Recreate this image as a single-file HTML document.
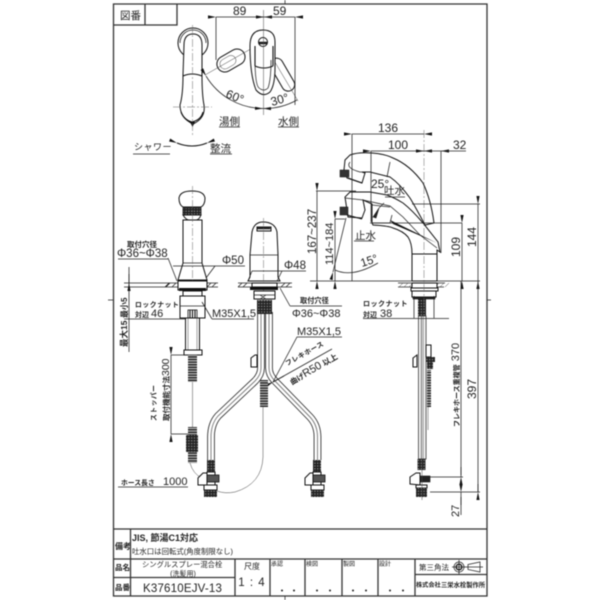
<!DOCTYPE html>
<html><head><meta charset="utf-8"><style>
html,body{margin:0;padding:0;background:#fff}
svg{display:block;filter:blur(.4px)}
text{font-family:"Liberation Sans","Noto Sans CJK JP",sans-serif;fill:#222}
.b{font-weight:700}
.l{fill:none;stroke:#222;stroke-width:.75}
.t{fill:none;stroke:#444;stroke-width:.5}
.h{fill:none;stroke:#111;stroke-width:1.1}
.w{fill:#fff;stroke:#111;stroke-width:1}
.d{fill:#222;stroke:#111;stroke-width:.6}
.c{fill:none;stroke:#666;stroke-width:.5;stroke-dasharray:8 2 2 2}
.f{fill:none;stroke:#333;stroke-width:1.3}
.ho{fill:none;stroke:#222;stroke-width:7.6}
.hw{fill:none;stroke:#fff;stroke-width:6}
.hc{fill:none;stroke:#777;stroke-width:.9}
</style></head><body>
<svg xmlns="http://www.w3.org/2000/svg" width="600" height="600" viewBox="0 0 600 600">
<defs>
<marker id="a" viewBox="0 0 8 4" refX="0" refY="2" markerWidth="8" markerHeight="4" markerUnits="userSpaceOnUse" orient="auto-start-reverse"><path d="M0 2L8 .4V3.6Z" fill="#111"/></marker>
<pattern id="dk" width="2.8" height="2.8" patternUnits="userSpaceOnUse"><rect width="2.8" height="2.8" fill="#222"/><rect x=".7" y=".7" width="1.2" height="1" fill="#aaa"/></pattern>
<pattern id="cl" width="4" height="2.6" patternUnits="userSpaceOnUse"><rect width="4" height="2.6" fill="#ccc"/><rect width="4" height="1.5" fill="#222"/></pattern>
</defs>

<!-- frame -->
<g class="f">
<path d="M113.5 4H487V596H113.5Z"/>
<path d="M113.5 25H177V4M145 4V25"/>
<path d="M113.5 529H487M113.5 559H487M113.5 577.5H235M130.5 529V596M235 559V596M270 559V596M305 559V596M342 559V596M378 559V596M415 559V596M415 574.5H487"/>
</g>
<path class="l" d="M285 0V4M285 596V600M108 300H113M487 300H491"/>

<!-- title texts -->
<text x="120" y="19" font-size="10.5">図番</text>
<text x="115" y="549" font-size="8" class="b">備考</text>
<text x="132" y="541" font-size="9" class="b">JIS,  節湯C1対応</text>
<text x="132" y="554" font-size="7.4">吐水口は回転式(角度制限なし)</text>
<text x="115" y="570" font-size="7.5" class="b">品名</text>
<text x="115" y="590" font-size="7.5" class="b">品番</text>
<text x="142" y="567" font-size="7.3">シングルスプレー混合栓</text>
<text x="183" y="576" font-size="7" text-anchor="middle">(洗髪用)</text>
<text x="143" y="592" font-size="11.5" letter-spacing=".2">K37610EJV-13</text>
<text x="252" y="569" font-size="8" text-anchor="middle">尺度</text>
<text x="252" y="586" font-size="11.5" text-anchor="middle" letter-spacing="1">1 : 4</text>
<text x="271" y="566" font-size="6">承認</text>
<text x="306" y="566" font-size="6">検図</text>
<text x="343" y="566" font-size="6">製図</text>
<text x="379" y="566" font-size="6">設計</text>
<text x="419" y="570" font-size="7.5">第三角法</text>
<text x="416" y="587" font-size="6.2" class="b">株式会社</text>
<text x="441" y="587" font-size="6.3" class="b">三栄水栓製作所</text>
<g fill="#222"><circle cx="282" cy="590.5" r="1"/><circle cx="294" cy="590.5" r="1"/><circle cx="317" cy="590.5" r="1"/><circle cx="330" cy="590.5" r="1"/><circle cx="353" cy="590.5" r="1"/><circle cx="366" cy="590.5" r="1"/><circle cx="390" cy="590.5" r="1"/><circle cx="403" cy="590.5" r="1"/></g>
<g class="l"><circle cx="459" cy="567" r="5"/><circle cx="459" cy="567" r="2.8" stroke-width="1.5"/><path d="M452 567H466M459 560V574M468 564.5L480 562V572L468 569.5ZM466 567H483"/></g>

<!-- top views -->
<circle class="w" cx="193" cy="43" r="15"/>
<path class="l" d="M180 43A13 13 0 0 1 206 43"/>
<path class="w" d="M184 45Q184 34 193 34Q202 34 202 45V75Q202 95 204 105Q206 118 193 124Q180 118 180 105Q183 95 183 75Z"/>
<path class="h" d="M183 76Q192 72 202 76M181 112Q184 120 192 122Q201 120 203 112"/>
<path d="M190 122H195L192.5 127Z" fill="#111"/>
<path class="c" d="M192.5 25V135M173 107H212"/>
<!-- swing handles -->
<g transform="rotate(60 263 42)"><rect class="w" x="255" y="64" width="16" height="30" rx="8"/><rect class="t" x="258" y="74" width="10" height="17" rx="5"/></g>
<g transform="rotate(-30 263 42)"><rect class="w" x="257" y="62" width="13" height="36" rx="6.5"/></g>
<path class="t" d="M263 42L205 75M263 42L298 101"/>
<path class="w" d="M250 46Q250 30 263 30Q275 30 275 42V68Q275 85 270 92Q263 98 256 90Q250 75 250 46Z"/>
<path class="l" d="M255 58Q255 85 259 88Q264 92 268 88Q271 80 271 60"/>
<path class="h" d="M255 46V66M273 46V66M255 66Q264 70 273 66"/>
<circle class="w" cx="263" cy="42" r="4.5"/><path class="d" d="M259 42H267V44H259Z"/>
<path class="t" d="M263.5 10V115"/>
<path class="l" d="M216 60V17M295 105V17"/>
<path class="l" d="M216 17H264" marker-start="url(#a)" marker-end="url(#a)"/>
<path class="l" d="M264 17H295" marker-start="url(#a)" marker-end="url(#a)"/>
<text x="233" y="15" font-size="12">89</text>
<text x="273" y="15" font-size="12">59</text>
<path class="l" d="M206 76A67 67 0 0 0 263 108.5" marker-start="url(#a)" marker-end="url(#a)"/>
<path class="l" d="M263 108.5A67 67 0 0 0 297 100" marker-start="url(#a)"/>
<text transform="translate(225 97) rotate(22)" font-size="12">60°</text>
<text transform="translate(272 106) rotate(-16)" font-size="12">30°</text>
<text x="219" y="125" font-size="10.5">湯側</text>
<text x="278" y="125" font-size="10.5">水側</text>
<path class="l" d="M219 127H240M278 127H299M133 154H170M210 154H232"/>
<text x="134" y="150" font-size="9" letter-spacing=".5">シャワー</text>
<text x="210" y="152" font-size="10.5">整流</text>
<path class="h" d="M177 143Q192 149 207 143" marker-start="url(#a)" marker-end="url(#a)"/>

<!-- side view faucet -->
<g>
<!-- upper spout -->
<path class="w" d="M345 160L350 155Q358 152 372 153Q385 154 393 158Q410 165 423 183Q431 200 434 223L425 225Q416 208 410 198Q400 184 390 177L370 172L362 172L365 173L362 183L347 178L344 170Z"/>
<path class="l" d="M390 162L387 177M350 162Q345 168 360 172L370 172"/>
<rect x="340" y="170" width="9" height="7" fill="#333" stroke="#111" stroke-width=".5"/>
<path class="h" d="M348 178L362 183"/>
<!-- lower spout + body -->
<path class="w" d="M372 205V223L373 225Q390 226 393 228Q403 231 408 237Q412 243 412 254H437L437 250L440 252L438 242L423 223Q412 210 403 203Q395 198 387 195L370 192H350L345 197L348 217L362 218L365 210L363 200L372 204Z"/>
<path class="l" d="M345 198L363 200L390 206L403 217L420 235L437 248"/>
<path class="l" d="M372 205L390 207M372 223H390L392 215"/>
<rect x="340" y="207" width="8" height="8" fill="#333" stroke="#111" stroke-width=".5"/>
<path class="h" d="M347 215L362 219"/>
<path d="M390 220L437 243L393 224Z" fill="#111"/>
<path d="M373 217L379 208L376 218Z" class="d"/>
<path class="l" d="M379 208L384 203"/>
<rect class="w" x="412" y="254" width="25" height="27"/>
</g>
<!-- side lower -->
<g>
<path class="l" d="M398 283H445"/>
<path class="l" d="M398 287H444"/>
<g class="t" stroke-width=".8"><path d="M399 287L403 283M404 287L408 283M409 287L413 283M435 287L439 283M440 287L444 283M445 287L449 283"/></g>
<rect class="w" x="412" y="283" width="25" height="5"/>
<rect class="w" x="411" y="288" width="27" height="3"/>
<rect class="w" x="412" y="291" width="24" height="6"/>
<rect class="d" x="413" y="297" width="22" height="2"/>
<rect fill="url(#dk)" x="418" y="299" width="8" height="17"/>
<rect class="l" x="418.5" y="316" width="7.5" height="143" fill="#fff"/>
<path class="t" d="M421 316V459M423.5 316V459"/>
<rect class="w" x="426" y="345" width="5" height="12"/>
<rect fill="url(#dk)" x="426" y="357" width="9" height="5"/>
<rect fill="url(#dk)" x="427" y="362" width="6" height="7"/>
<rect fill="url(#cl)" x="427" y="370" width="4" height="37"/>
<path class="t" d="M428 407V430"/>
<path class="w" d="M413 367V358L417 355V367Z"/>
<rect fill="url(#dk)" x="417.5" y="459" width="8" height="11"/>
<path class="w" d="M410 484V477L416 473H420V485Z"/>
<rect class="d" x="420" y="476" width="10" height="6" fill="#555"/>
<rect class="w" x="416" y="485" width="11" height="3"/>
<rect fill="url(#dk)" x="416" y="488" width="11" height="9"/>
</g>
<path class="c" d="M424 130V310"/>
<path class="t" d="M422 310V500"/>

<!-- side dims -->
<path class="l" d="M352 134V281M371 151V222M441 151V253M316 191H356M335 219H345M370 223H462M412 204H480M310 281H480"/>
<path class="l" d="M352 134H424" marker-start="url(#a)" marker-end="url(#a)"/>
<path class="l" d="M371 151H424" marker-start="url(#a)" marker-end="url(#a)"/>
<path class="l" d="M424 151H441" marker-start="url(#a)" marker-end="url(#a)"/>
<path class="l" d="M441 151H466"/>
<text x="378" y="132" font-size="12">136</text>
<text x="388" y="149" font-size="12">100</text>
<text x="453" y="149" font-size="12">32</text>
<path class="l" d="M317 191V281" marker-start="url(#a)" marker-end="url(#a)"/>
<path class="l" d="M335 219V281" marker-start="url(#a)" marker-end="url(#a)"/>
<path class="l" d="M462 223V281" marker-start="url(#a)" marker-end="url(#a)"/>
<path class="l" d="M478 204V281" marker-start="url(#a)" marker-end="url(#a)"/>
<text transform="translate(316 254) rotate(-90)" font-size="11.5">167~237</text>
<text transform="translate(333 265) rotate(-90)" font-size="11">114~184</text>
<text transform="translate(460 257) rotate(-90)" font-size="12">109</text>
<text transform="translate(476 247) rotate(-90)" font-size="12">144</text>
<text x="371" y="188" font-size="12">25°</text>
<text x="384" y="194" font-size="10.5">吐水</text>
<path class="l" d="M385 197H405"/>
<text x="355" y="239" font-size="10.5">止水</text>
<path class="l" d="M354 241H374"/>
<path class="l" d="M333 272L346 218M335 270Q352 278 378 263" marker-start="url(#a)"/>
<text transform="translate(362 267) rotate(-18)" font-size="11.5">15°</text>

<!-- front left faucet -->
<path class="w" d="M183 207Q179 205 179 198Q180 191 192 191Q204 191 205 198Q205 205 201 207Z"/>
<rect x="183" y="208" width="18" height="7" fill="url(#dk)" stroke="#111" stroke-width=".8"/>
<path class="w" d="M183 215Q186 220 189 220H196Q199 220 201 215Z"/>
<path class="w" d="M183 220H202V263L207 280H178L183 263Z"/>
<path class="l" d="M183 263H202"/>
<path class="c" d="M192.5 186V352"/>
<path class="l" d="M173 266H245"/>
<path class="l" d="M215 266L206 278"/>
<path class="l" d="M168 258L177 281"/>
<path class="l" d="M124 283H218M124 287H178M207 287H218M124 319H195"/>
<path class="l" d="M165 287L169 283M172 287L176 283M166 287L170 283M207 287L211 283M212 287L216 283"/>
<path class="w" d="M178 281H207V290H178Z"/>
<rect x="179" y="288" width="27" height="3" fill="#111"/>
<rect class="w" x="183" y="291" width="19" height="5"/>
<rect class="w" x="180" y="296" width="25" height="22"/>
<path class="l" d="M180 306H205"/>
<rect x="188" y="310" width="9" height="8" fill="#fff" stroke="#111" stroke-width=".8"/><path class="h" d="M190 310V318M192.5 310V318M195 310V318"/>
<rect class="w" x="185.5" y="318" width="14" height="32"/>
<path class="t" d="M188 318V350M197 318V350"/>
<rect class="w" x="184" y="350" width="18" height="5"/>
<rect fill="url(#cl)" x="188" y="355" width="9" height="27"/>
<path class="t" d="M192.5 382V427"/>
<rect fill="url(#cl)" x="188" y="427" width="9" height="36"/>
<rect fill="url(#dk)" x="186" y="435" width="12" height="17"/>
<path class="t" d="M190 463Q193 474 202 478M263 407V457Q262 484 235 492Q225 494 217 491"/>
<!-- left labels -->
<path class="l" d="M129 267V352M118 259H168"/>
<path class="l" d="M129 274V283" marker-end="url(#a)"/>
<text x="127" y="247" font-size="7.5" class="b">取付穴径</text>
<text x="117" y="257" font-size="11.5">Φ36~Φ38</text>
<text x="222" y="264" font-size="11.5">Φ50</text>
<text x="135" y="307" font-size="6.8" class="b" letter-spacing=".6">ロックナット</text>
<text x="135" y="317" font-size="7" class="b">対辺</text>
<text x="151" y="317" font-size="11">46</text>
<path class="l" d="M212 319H254M212 319L202 302"/>
<text x="212" y="317" font-size="11">M35X1,5</text>
<text transform="translate(127 318) rotate(-90)" font-size="8" class="b">最小5</text>
<text transform="translate(127 347) rotate(-90)" font-size="8.5" class="b">最大15</text>
<path class="l" d="M171 355H188M171 434H188"/>
<path class="l" d="M171 355V434" marker-start="url(#a)" marker-end="url(#a)"/>
<text transform="translate(156 421) rotate(-90)" font-size="6.8" class="b" letter-spacing=".5">ストッパー</text>
<text transform="translate(169 421) rotate(-90)" font-size="7.5" class="b">取付機能寸法<tspan font-size="10.5" font-weight="400">300</tspan></text>
<text x="121" y="485" font-size="6.8" class="b">ホース長さ</text>
<text x="163" y="485" font-size="11">1000</text>
<path class="l" d="M118 487H188"/>

<!-- front right faucet -->
<path class="w" d="M250 277V255L252 232Q254 222 263 222Q275 222 277 232L278 255V277L280 281H248Z"/>
<path class="w" d="M257 227H271V231H257Z"/><path class="d" d="M257 227H270V229H257Z"/>
<path class="l" d="M250 255H278"/>
<path class="c" d="M263.5 218V340"/>
<path class="l" d="M238 283H292M238 287H292M252 271H306M252 271L248 281M277 281L282 271"/>
<path class="l" d="M238 287L242 283M243 287L247 283M281 287L285 283M286 287L290 283"/>
<rect class="w" x="252" y="283" width="25" height="4"/>
<rect x="250" y="287" width="28" height="3" fill="#111"/>
<rect class="w" x="254" y="291" width="21" height="8"/>
<path class="l" d="M254 295H275M260 295L266 299M266 295L260 299"/>
<!-- hoses -->
<path class="ho" d="M261 312V368Q261 375 255 381L218 416Q211 424 211 437V460"/>
<path class="hw" d="M261 312V368Q261 375 255 381L218 416Q211 424 211 437V460"/>
<path class="hc" d="M261 312V368Q261 375 255 381L218 416Q211 424 211 437V460"/>
<path class="ho" d="M269 312V368Q269 375 275 381L310 417Q317.5 425 317.5 437V460"/>
<path class="hw" d="M269 312V368Q269 375 275 381L310 417Q317.5 425 317.5 437V460"/>
<path class="hc" d="M269 312V368Q269 375 275 381L310 417Q317.5 425 317.5 437V460"/>
<rect fill="url(#dk)" x="257" y="300" width="15" height="14"/>
<path class="l" d="M273 382L332 349M273 382L297 337H342M290 306H342M280 288L290 306"/>
<path class="l" d="M284 376L273 382" marker-end="url(#a)"/>
<path class="w" d="M251 367V358L255 355H257V367Z"/>
<rect fill="url(#cl)" x="260" y="380" width="8" height="27"/>
<rect fill="url(#dk)" x="207" y="460" width="8" height="12"/>
<rect fill="url(#dk)" x="313" y="460" width="8" height="12"/>
<path class="w" d="M198 485V478L203 473H207V485Z"/>
<rect class="w" x="207" y="472" width="8" height="13"/>
<rect x="207" y="475" width="12" height="7" fill="#555" stroke="#111" stroke-width=".8"/>
<rect class="w" x="204" y="485" width="13" height="5"/>
<rect fill="url(#dk)" x="204" y="490" width="13" height="7"/>
<path class="w" d="M305 485V478L310 473H313V485Z"/>
<rect class="w" x="313" y="472" width="8" height="13"/>
<rect x="313" y="475" width="12" height="7" fill="#555" stroke="#111" stroke-width=".8"/>
<rect class="w" x="311" y="485" width="13" height="5"/>
<rect fill="url(#dk)" x="311" y="490" width="13" height="7"/>
<text x="284" y="269" font-size="11.5">Φ48</text>
<text x="300" y="303" font-size="7.2" class="b">取付穴径</text>
<text x="292" y="317" font-size="11">Φ36~Φ38</text>
<text x="297" y="335" font-size="11">M35X1,5</text>
<text transform="translate(287 366) rotate(-29)" font-size="6.8" class="b" letter-spacing=".4">フレキホース</text>
<text transform="translate(292 385) rotate(-30)" font-size="7.5" class="b">曲げ<tspan font-size="11" font-weight="400">R50</tspan><tspan font-size="8"> 以上</tspan></text>

<!-- right labels -->
<text x="363" y="306" font-size="7" class="b" letter-spacing=".5">ロックナット</text>
<text x="363" y="317" font-size="7" class="b">対辺</text>
<text x="380" y="317" font-size="11">38</text>
<path class="l" d="M363 318.5H449M414 296V318M434 296V318"/>
<path class="l" d="M461 281V475M461 497V515M463 477H430M480 492H430M478 281V492"/>
<path class="l" d="M461 467V477" marker-end="url(#a)"/>
<path class="l" d="M478 484V492" marker-end="url(#a)"/>
<path class="l" d="M461 505V492" marker-end="url(#a)"/>
<text transform="translate(459 427) rotate(-90)" font-size="7" class="b">フレキホース重複管<tspan font-size="11" font-weight="400"> 370</tspan></text>
<text transform="translate(476 399) rotate(-90)" font-size="12">397</text>
<text transform="translate(459 517) rotate(-90)" font-size="11">27</text>
</svg>
</body></html>
